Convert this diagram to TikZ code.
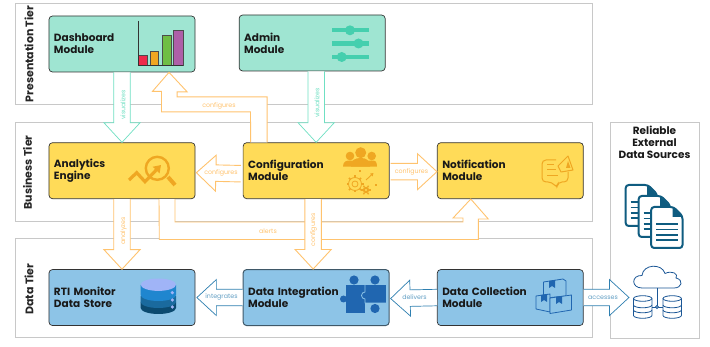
\documentclass[tikz,border=0pt]{standalone}
\usepackage{fontspec}
\setmainfont{Poppins}
\usetikzlibrary{calc,positioning,arrows.meta}

\definecolor{tealfill}{HTML}{9FE5D2}
\definecolor{tealicon}{HTML}{45CFAE}
\definecolor{tealline}{HTML}{6FE0C3}
\definecolor{yellowfill}{HTML}{FFDB58}
\definecolor{yellowicon}{HTML}{EFA722}
\definecolor{orangeline}{HTML}{FFC36E}
\definecolor{bluefill}{HTML}{8DC4E7}
\definecolor{blueline}{HTML}{2E7FB0}
\definecolor{blueicon}{HTML}{2066B0}
\definecolor{docblue}{HTML}{0F5C80}
\definecolor{tiergray}{HTML}{C8C8C8}
\definecolor{dbtop}{HTML}{A0B4F7}
\definecolor{dbup}{HTML}{1F86CF}
\definecolor{dbmid}{HTML}{1A6A9E}
\definecolor{dblow}{HTML}{0B4A70}

% hollow block arrow: style, tail, tip
\newcommand{\flowarrow}[3]{
  \coordinate (fa) at #2;
  \coordinate (fb) at #3;
  \coordinate (fh) at ($(fb)!19.5pt!(fa)$);
  \draw[#1] ($(fa)!8.25pt!90:(fb)$) -- ($(fh)!8.25pt!90:(fb)$) -- ($(fh)!18pt!90:(fb)$)
    -- (fb) -- ($(fh)!18pt!-90:(fb)$) -- ($(fh)!8.25pt!-90:(fb)$) -- ($(fa)!8.25pt!-90:(fb)$);
}

\begin{document}
\begin{tikzpicture}[x=1pt,y=-1pt]
  \tikzstyle{tier}=[draw=tiergray,line width=0.8pt]
  \tikzstyle{tierlabel}=[rotate=90,inner sep=0pt,font=\fontsize{11}{12}\selectfont\bfseries,text=black!85]
  \tikzstyle{module}=[draw=black!80,line width=0.7pt,rounded corners=3.5pt,anchor=center,
    text width=136pt,inner xsep=5pt,minimum height=56pt,align=left,
    font=\fontsize{10.5}{12}\selectfont\bfseries,text=black!90]
  \tikzstyle{tealbox}=[module,fill=tealfill]
  \tikzstyle{yellowbox}=[module,fill=yellowfill]
  \tikzstyle{bluebox}=[module,fill=bluefill]
  \tikzstyle{tealflow}=[draw=tealline,fill=white,line width=0.7pt,line join=miter]
  \tikzstyle{orangeflow}=[draw=orangeline,fill=white,line width=0.9pt,line join=miter]
  \tikzstyle{blueflow}=[draw=blueline,fill=white,line width=0.7pt,line join=miter]
  \tikzstyle{flowlabel}=[inner sep=0pt,font=\fontsize{6.3}{7}\selectfont]

  \useasboundingbox (0,0) rectangle (710,347);

  % tiers
  \draw [tier] (15,3) rectangle (592,104);
  \draw [tier] (15,122) rectangle (592,221);
  \draw [tier] (15,238) rectangle (592,337);
  \draw [tier] (610,122) rectangle (699,338);
  \node [tierlabel] (presentation) at (29,54) {Presentation Tier};
  \node [tierlabel] (business) at (27.5,172.5) {Business Tier};
  \node [tierlabel] (datatier) at (29,289) {Data Tier};
  \node [align=center,inner sep=0pt,font=\fontsize{10.5}{11.7}\selectfont\bfseries,text=black!90]
    (external) at (654.5,142.5) {Reliable\\External\\Data Sources};

  \matrix [column sep=47.3pt,row sep=70pt,matrix anchor=dash.center] (modules) at (122,44)
  {
    \node [tealbox] (dash) {Dashboard\\Module}; & & \\
    \node [yellowbox] (ana) {Analytics\\Engine}; & \node [yellowbox] (cfg) {Configuration\\Module}; & \node [yellowbox] (notif) {Notification\\Module}; \\
    \node [bluebox] (store) {RTI Monitor\\Data Store}; & \node [bluebox,draw=black!55!bluefill,line width=1pt] (integ) {Data Integration\\Module}; & \node [bluebox] (coll) {Data Collection\\Module}; \\
  };
  \node [tealbox,above=71pt of cfg,xshift=-4pt] (admin) {Admin\\Module};
  \coordinate (cloudin) at (629,297.5);

  % flows
  \draw [orangeflow] ($(ana.south)+(53,0)$) -- ++(0,23) -- ++(288,0) -- ++(0,-4) -- ++(-10,0)
    -- ($(notif.south)+(-39.5,0)$) -- ++(17.5,20) -- ++(-10,0) -- ++(0,20.5) -- ++(-319,0) -- ($(ana.south)+(37,0)$);
  \draw [orangeflow] ($(cfg.north)+(-49,0)$) -- ++(0,-45.5) -- ++(-90,0) -- ++(0,-5) -- ++(10,0)
    -- ($(dash.south)+(47,0)$) -- ++(-16.5,19) -- ++(9,0) -- ++(0,20.5) -- ++(89,0) -- ($(cfg.north)+(-65.5,0)$);
  \flowarrow{tealflow}{(dash.south)}{(ana.north)}
  \flowarrow{tealflow}{(admin.south -| cfg.north)}{(cfg.north)}
  \flowarrow{orangeflow}{($(cfg.west)+(-2,3)$)}{($(ana.east)+(1,2)$)}
  \flowarrow{orangeflow}{($(cfg.east)+(1,1)$)}{($(notif.west)+(0,1)$)}
  \flowarrow{orangeflow}{(ana.south)}{(store.north)}
  \flowarrow{orangeflow}{($(cfg.south)+(-3,0)$)}{($(integ.north)+(-3,0)$)}
  \flowarrow{blueflow}{(integ.west)}{($(store.east)+(1.5,0)$)}
  \flowarrow{blueflow}{(coll.west)}{($(integ.east)+(1,1)$)}
  \flowarrow{blueflow}{(coll.east)}{(cloudin)}

  \node [flowlabel,rotate=90,text=tealline] (visa) at (123,105) {visualizes};
  \node [flowlabel,rotate=90,text=tealline] (visb) at (317,103) {visualizes};
  \node [flowlabel,text=orangeline] (cfga) at (219,105.5) {configures};
  \node [flowlabel,text=orangeline] (cfgb) at (221,173) {configures};
  \node [flowlabel,text=orangeline] (cfgc) at (411.5,172) {configures};
  \node [flowlabel,rotate=90,text=orangeline] (cfgd) at (313.5,230) {configures};
  \node [flowlabel,rotate=90,text=orangeline] (anlz) at (123.5,231) {analyzes};
  \node [flowlabel,text=orangeline] (alerts) at (268,231) {alerts};
  \node [flowlabel,text=blueline!75] (integrates) at (221.5,296.5) {integrates};
  \node [flowlabel,text=blueline!75] (delivers) at (414.5,297.5) {delivers};
  \node [flowlabel,text=blueline!75] (accesses) at (603,297.5) {accesses};

  % bar chart
  \foreach \xa/\xb/\ytop/\barcol in {138.5/147/55/EE2A4A,150/158.7/51.7/EFA722,162/171/35.5/6FBE44,173.5/183/30.5/AE5FA8}
  {
    \definecolor{barfill}{HTML}{\barcol}
    \draw [fill=barfill,draw=black!70,line width=0.8pt] (\xa,65) rectangle (\xb,\ytop);
  }
  \draw [black!80,line width=0.7pt] (138.5,21) -- (138.5,65) -- (183,65);

  % sliders
  \foreach \ybar/\xknob in {30.3/350,43.5/358.5,57/341.7}
  {
    \fill [tealicon] (332,\ybar-2.2) rectangle (369,\ybar+2.2);
    \fill [tealicon] (\xknob,\ybar) circle (5);
  }

  % magnifier
  \draw [yellowicon,line width=2.4pt] (157.3,168.3) circle (11.5);
  \draw [yellowicon,line width=4pt] (168,177) -- (175,185);
  \draw [yellowicon,line width=3.2pt,-{Triangle[length=7pt,width=9pt]}] (129,180) -- (136.7,172.7) -- (145,181.7) -- (161,165);

  % people and gears
  \fill [yellowicon] (350,156) circle (4.3);
  \fill [yellowicon] (371.7,156) circle (4.3);
  \fill [yellowicon] (343,166.7) .. controls (343,161) and (347,160.5) .. (350,160.5) .. controls (354,160.5) and (356,161) .. (358,163) -- (363,163) .. controls (365,161) and (368,160.5) .. (371.7,160.5) .. controls (375,160.5) and (377,161) .. (377,166.7) -- cycle;
  \fill [yellowicon] (360.7,152.7) circle (5.5);
  \fill [yellowicon] (351,166.7) .. controls (351,160) and (355,158) .. (360.7,158) .. controls (366,158) and (370,160) .. (370,166.7) -- cycle;
  \foreach \a in {0,45,...,315}
    \draw [yellowicon,line width=1.6pt] (355,184) ++(\a:6) -- ++(\a:2.5);
  \draw [yellowicon,line width=0.8pt,fill=yellowfill] (355,184) circle (6.5);
  \draw [yellowicon,line width=0.8pt] (355,184) circle (3);
  \foreach \a in {0,60,...,300}
    \draw [yellowicon,line width=1.3pt] (366,190) ++(\a:3) -- ++(\a:2);
  \fill [yellowicon] (366,190) circle (3.2);
  \fill [yellowfill] (366,190) circle (1.1);
  \draw [yellowicon,line width=0.9pt,-{Triangle[length=3pt,width=3.5pt]}] (366,180) -- (373.5,173);
  \fill [yellowicon] (359,170.5) rectangle (361,172.5);
  \fill [yellowicon] (374.5,184) rectangle (376.5,186);

  % speech bubble and megaphone
  \draw [yellowicon,line width=1pt,rounded corners=4pt] (556,160) -- (542,160) -- (542,182) -- (552,182) -- (557,188) -- (558,182) -- (568,182) -- (568,172);
  \draw [yellowicon,line width=1pt] (547,165) -- (554,165) (547,170) -- (556,170) (547,176) -- (558,176);
  \draw [yellowicon,line width=1pt,fill=yellowfill,line join=round] (558,166) -- (568,156) -- (573,170) -- (561,172) -- cycle;
  \fill [yellowicon] (568,161) -- (570.5,168) -- (566,168) -- cycle;

  % database
  \fill [dblow] (140.7,302) -- (140.7,308) arc [start angle=180,end angle=0,x radius=17.65,y radius=6] -- (176,302) -- cycle;
  \fill [dbmid] (140.7,296) -- (140.7,302) arc [start angle=180,end angle=0,x radius=17.65,y radius=6] -- (176,296) -- cycle;
  \fill [dbup] (140.7,285) -- (140.7,295) arc [start angle=180,end angle=0,x radius=17.65,y radius=6] -- (176,285) -- cycle;
  \fill [dbtop] (158.35,284.7) ellipse [x radius=17.65,y radius=6.2];
  \foreach \ydot in {292.7,300,307}
    \fill [dbtop] (172.3,\ydot) circle (1.8);

  % puzzle
  \fill [blueicon] (346,285) rectangle (364.5,313.5);
  \fill [blueicon] (354,280) circle (4.6);
  \fill [blueicon] (343.5,299) circle (3.5);
  \fill [blueicon] (365,285) rectangle (386,303);
  \fill [blueicon] (375,280) circle (4.6);
  \fill [blueicon] (375,308.5) circle (4.6);
  \draw [bluefill,line width=0.8pt] (365,285) -- (365,292) arc [start angle=270,end angle=90,radius=3.5] -- (365,303) -- (386,303);

  % cartons
  \tikzstyle{carton}=[draw=blueicon,line width=0.8pt,fill=bluefill,line join=round]
  \draw [carton] (543.5,282) -- (563,279) -- (566,281) -- (566,296) -- (546,298) -- (543.5,296) -- cycle;
  \draw [carton] (536,296) -- (550,294) -- (550,312) -- (536,309) -- cycle;
  \draw [carton] (550,298) -- (571.5,295) -- (571.5,310) -- (550,313.5) -- cycle;
  \foreach \xa/\ya in {549/281,541/295,556/297}
    \fill [blueicon] (\xa,\ya) -- ++(6,-1) -- ++(0,8) -- ++(-3,-2) -- ++(-3,2) -- cycle;

  % documents
  \foreach \dx/\dy in {0/0,13/11,25.5/22}
  {
    \draw [docblue,line width=2pt,fill=white,rounded corners=3pt,line join=round,shift={(\dx,\dy)}]
      (625.7,185) -- (648,185) -- (657,194) -- (657,226) -- (625.7,226) -- cycle;
    \fill [docblue,shift={(\dx,\dy)}] (647,185) -- (657,195) -- (647,195) -- cycle;
    \foreach \yl in {202,207.5,213,218}
      \draw [docblue,line width=1.5pt,shift={(\dx,\dy)}] (630.5,\yl) -- (652,\yl);
  }

  % cloud and stores
  \tikzstyle{netline}=[draw=blueicon!85!black,line width=0.8pt]
  \draw [netline,fill=white] (642,288) .. controls (631,288) and (631,275) .. (642,275.5) .. controls (643,264) and (662,263) .. (665,273.5) .. controls (672,270) and (679,274) .. (676,278) .. controls (684,280) and (682,288) .. (674,288) -- cycle;
  \draw [netline] (657,288) -- (657,307);
  \draw [netline] (651.5,307) -- (663,307);
  \draw [netline,fill=white] (657,307) circle (1.5);
  \foreach \xa in {633.5,663}
  {
    \draw [netline,fill=white] (\xa,298.5) -- (\xa,315.5) arc [start angle=180,end angle=0,x radius=9.2,y radius=2.8] -- (\xa+18.4,298.5);
    \draw [netline,fill=white] (\xa+9.2,298.5) ellipse [x radius=9.2,y radius=2.8];
    \draw [netline] (\xa,305) arc [start angle=180,end angle=0,x radius=9.2,y radius=2.8];
    \draw [netline] (\xa,310) arc [start angle=180,end angle=0,x radius=9.2,y radius=2.8];
  }
\end{tikzpicture}
\end{document}
